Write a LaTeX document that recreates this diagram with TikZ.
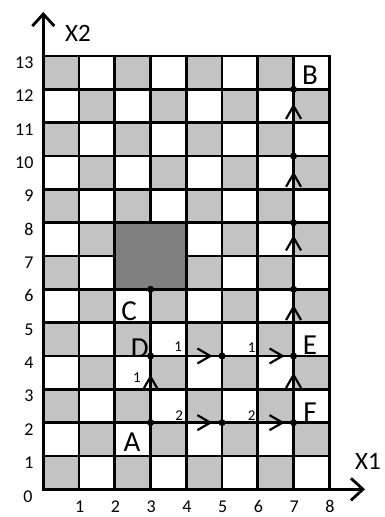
\documentclass[tikz,border=0pt]{standalone}
\usepackage{fontspec}
\setmainfont{Carlito}
\usetikzlibrary{arrows.meta,decorations.markings}
\definecolor{cellgray}{HTML}{C3C3C3}
\definecolor{blockgray}{HTML}{808080}
\tikzset{
  chev/.tip={Straight Barb[length=13pt,width=15pt,line width=2.2pt]},
  gridline/.style={line width=2.8pt, line cap=rect},
  axis/.style={line width=2.8pt, -{Straight Barb[length=12pt,width=22pt,line width=2.8pt]}},
  dot/.style={circle, fill=black, inner sep=0pt, minimum size=7pt},
  seg/.style={line width=2.8pt, postaction={decorate},
              decoration={markings, mark=at position #1 with {\arrow{chev}}}},
  tick/.style={font=\fontsize{18}{18}\selectfont, inner sep=0pt},
  cost/.style={font=\fontsize{15}{15}\selectfont, inner sep=0pt},
  pname/.style={font=\fontsize{29}{29}\selectfont, inner sep=0pt},
  axname/.style={font=\fontsize{25}{25}\selectfont, inner sep=0pt}
}

\begin{document}
\begin{tikzpicture}
  \useasboundingbox (0pt,0pt) rectangle (384pt,517pt);
  \begin{scope}[shift={(43.3pt,27.7pt)}, x=35.75pt, y=33.33pt]
  % checkerboard
  \foreach \i in {0,...,7}
    \foreach \j in {0,...,12} {
      \pgfmathtruncatemacro{\parity}{mod(\i+\j,2)}
      \ifnum\parity=0 \fill[cellgray] (\i,\j) rectangle ++(1,1); \fi
    }
  \draw[gridline, step=1] (0,0) grid (8,13);
  % obstacle
  \filldraw[fill=blockgray, gridline] (2,6) rectangle (4,8);

  % axes
  \coordinate (o) at (0,0);
  \coordinate (xend) at (9,0);
  \coordinate (yend) at (0,14.32);
  \draw[axis] (o) -- (xend);
  \draw[axis] (o) -- (yend);
  \node[axname] (xlab) at (9.08,0.83) {X1};
  \node[axname] (ylab) at (0.97,13.69) {X2};
  \node[tick] (t0) at (-0.43,-0.22) {0};
  \foreach \j in {1,...,13}
    \node[tick, anchor=east] (ty\j) at (-0.27,\j-0.2) {\j};
  \foreach \i in {1,...,8}
    \node[tick] (tx\i) at (\i+0.02,-0.52) {\i};

  % points
  \node[dot] (pA) at (3,2) {};
  \node[dot] (pD) at (3,4) {};
  \node[dot] (pC) at (3,6) {};
  \node[dot] (p52) at (5,2) {};
  \node[dot] (p54) at (5,4) {};
  \node[dot] (pF) at (7,2) {};
  \node[dot] (pE) at (7,4) {};
  \node[dot] (p76) at (7,6) {};
  \node[dot] (p78) at (7,8) {};
  \node[dot] (p710) at (7,10) {};
  \node[dot] (pB) at (7,12) {};

  % moves
  \draw[seg=0.75] (pA) -- (pD);
  \draw[seg=0.91] (pD) -- (p54);
  \draw[seg=0.92] (p54) -- (pE);
  \draw[seg=0.91] (pA) -- (p52);
  \draw[seg=0.92] (p52) -- (pF);
  \draw[seg=0.78] (pF) -- (pE);
  \draw[seg=0.8] (pE) -- (p76);
  \draw[seg=0.85] (p76) -- (p78);
  \draw[seg=0.8] (p78) -- (p710);
  \draw[seg=0.82] (p710) -- (pB);

  % costs
  \node[cost] (c1) at (2.62,3.34) {1};
  \node[cost] (c2) at (3.77,4.28) {1};
  \node[cost] (c3) at (5.83,4.26) {1};
  \node[cost] (c4) at (3.8,2.2) {2};
  \node[cost] (c5) at (5.83,2.2) {2};

  % point names
  \node[pname] (lA) at (2.48,1.4) {A};
  \node[pname] (lB) at (7.46,12.43) {B};
  \node[pname] (lC) at (2.4,5.33) {C};
  \node[pname] (lD) at (2.7,4.24) {D};
  \node[pname] (lE) at (7.46,4.33) {E};
  \node[pname] (lF) at (7.46,2.32) {F};
  \end{scope}
\end{tikzpicture}
\end{document}
